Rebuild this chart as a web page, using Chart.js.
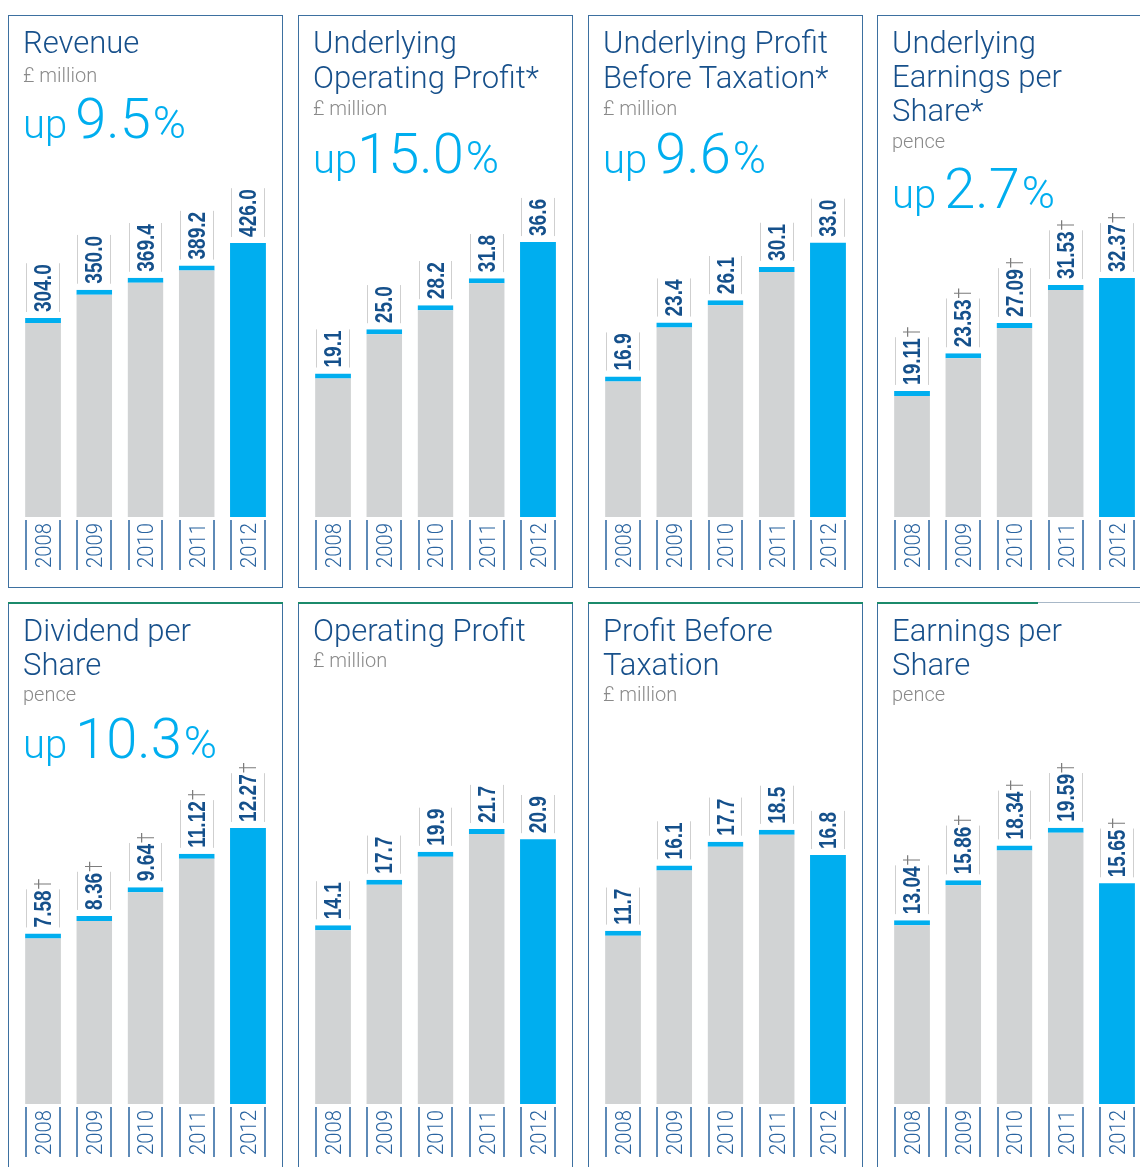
<!DOCTYPE html>
<html>
<head>
<meta charset="utf-8">
<script src="https://cdn.jsdelivr.net/npm/chart.js@4.4.0/dist/chart.umd.min.js"></script>
<style>
  html, body { margin: 0; padding: 0; background: #fff; overflow: hidden; width: 1140px; height: 1167px; }
  .panel { position: absolute; width: 275px; height: 573px; box-sizing: border-box; border: 1px solid #3d70a0; background: #fff; }
  .panel canvas { position: absolute; left: 0; top: 0; }
  .txt { position: absolute; left: 14px; white-space: nowrap; line-height: 1; font-family: Roboto, "Liberation Sans", sans-serif; font-weight: 300; }
  .title { font-size: 31px; color: #17508b; }
  .unit { font-size: 20px; color: #8a8a8a; }
  .growth { font-size: 56px; color: #00aeef; }
  .growth .small { font-size: 40px; }
  .growth .pct { font-size: 45px; margin-left: 2px; }
  .green { position: absolute; top: -1px; left: -1px; height: 2px; background: #1b8a6b; }
</style>
</head>
<body>
<script>
const years = ["2008", "2009", "2010", "2011", "2012"];

const revenue = [304.0, 350.0, 369.4, 389.2, 426.0];
const underlyingOpProfit = [19.1, 25.0, 28.2, 31.8, 36.6];
const underlyingPbt = [16.9, 23.4, 26.1, 30.1, 33.0];
const underlyingEps = [19.11, 23.53, 27.09, 31.53, 32.37];
const dividendPerShare = [7.58, 8.36, 9.64, 11.12, 12.27];
const operatingProfit = [14.1, 17.7, 19.9, 21.7, 20.9];
const profitBeforeTax = [11.7, 16.1, 17.7, 18.5, 16.8];
const earningsPerShare = [13.04, 15.86, 18.34, 19.59, 15.65];

const BLUE = "#00aeef";
const GREY = "#d1d3d4";
const ASC = 0.842; // baseline offset for line-height 1

const panels = [
  { left: 8, top: 15, title: ["Revenue"], unit: "£ million", growth: "9.5", gap: 8,
    values: revenue, decimals: 1, dagger: false, min: -19.5, max: 795,
    titleY: [38], unitY: 67, growthY: 123 },
  { left: 298, top: 15, title: ["Underlying", "Operating Profit*"], unit: "£ million", growth: "15.0", gap: 0,
    values: underlyingOpProfit, decimals: 1, dagger: false, min: 0, max: 66.7,
    titleY: [38, 73], unitY: 100, growthY: 158 },
  { left: 588, top: 15, title: ["Underlying Profit", "Before Taxation*"], unit: "£ million", growth: "9.6", gap: 8,
    values: underlyingPbt, decimals: 1, dagger: false, min: 0, max: 60.3,
    titleY: [38, 73], unitY: 100, growthY: 158 },
  { left: 877, top: 15, title: ["Underlying", "Earnings per", "Share*"], unit: "pence", growth: "2.7", gap: 8,
    values: underlyingEps, decimals: 2, dagger: true, min: 4.32, max: 63.1,
    titleY: [38, 72, 106], unitY: 133, growthY: 193 },
  { left: 8, top: 602, title: ["Dividend per", "Share"], unit: "pence", growth: "10.3", gap: 8,
    values: dividendPerShare, decimals: 2, dagger: true, min: 0, max: 22.27,
    titleY: [39, 73], unitY: 99, growthY: 156, green: 275 },
  { left: 298, top: 602, title: ["Operating Profit"], unit: "£ million", growth: null,
    values: operatingProfit, decimals: 1, dagger: false, min: 0, max: 39.54,
    titleY: [39], unitY: 65, green: 275 },
  { left: 588, top: 602, title: ["Profit Before", "Taxation"], unit: "£ million", growth: null,
    values: profitBeforeTax, decimals: 1, dagger: false, min: 0, max: 33.81,
    titleY: [39, 73], unitY: 99, green: 275 },
  { left: 877, top: 602, title: ["Earnings per", "Share"], unit: "pence", growth: null,
    values: earningsPerShare, decimals: 2, dagger: true, min: 0, max: 35.53,
    titleY: [39, 73], unitY: 99, green: 161, topColor: "#a8b8c8" }
];

// value labels above bars and year labels below them
const barLabels = {
  id: "barLabels",
  afterDatasetsDraw(chart, args, opts) {
    const ctx = chart.ctx;
    const data = chart.data.datasets[0].data;
    chart.getDatasetMeta(0).data.forEach((bar, i) => {
      const l = Math.round(bar.x - bar.width / 2) + 0.5;
      const r = Math.round(bar.x + bar.width / 2) - 0.5;

      // value
      const text = data[i].toFixed(opts.decimals);
      ctx.save();
      ctx.font = 'bold 23px "Liberation Sans", Arial, sans-serif';
      const len = ctx.measureText(text).width * 0.83;
      const y0 = bar.y - 6;
      ctx.strokeStyle = "#cfcfcf";
      ctx.lineWidth = 1;
      ctx.beginPath();
      ctx.moveTo(l + 1, y0); ctx.lineTo(l + 1, y0 - len - 1);
      ctx.moveTo(r - 1, y0); ctx.lineTo(r - 1, y0 - len - 1);
      ctx.stroke();
      ctx.translate(bar.x, y0);
      ctx.rotate(-Math.PI / 2);
      ctx.scale(0.83, 1);
      ctx.fillStyle = "#15508b";
      ctx.fillText(text, 0, 8.2);
      if (opts.dagger) {
        const w = ctx.measureText(text).width;
        ctx.font = '300 24px Roboto, "Liberation Sans", sans-serif';
        ctx.fillStyle = "#7d7d7d";
        ctx.fillText("\u2020", w + 1, 8.2);
      }
      ctx.restore();

      // year
      ctx.save();
      ctx.strokeStyle = "#2a64a0";
      ctx.lineWidth = 1.5;
      ctx.beginPath();
      ctx.moveTo(l + 0.5, bar.base + 3); ctx.lineTo(l + 0.5, bar.base + 53);
      ctx.moveTo(r - 0.5, bar.base + 3); ctx.lineTo(r - 0.5, bar.base + 53);
      ctx.stroke();
      ctx.translate(bar.x, bar.base + 51);
      ctx.rotate(-Math.PI / 2);
      ctx.scale(0.92, 1);
      ctx.font = '300 22px Roboto, "Liberation Sans", sans-serif';
      ctx.fillStyle = "#2a64a0";
      ctx.fillText(chart.data.labels[i], 0, 7.8);
      ctx.restore();
    });
  }
};

function addText(parent, html, cls, baseline, size) {
  const d = document.createElement("div");
  d.className = "txt " + cls;
  d.innerHTML = html;
  d.style.top = (baseline - 1 - ASC * size) + "px";
  parent.appendChild(d);
}

panels.forEach((p) => {
  const div = document.createElement("div");
  div.className = "panel";
  div.style.left = p.left + "px";
  div.style.top = p.top + "px";
  if (p.topColor) div.style.borderTopColor = p.topColor;
  document.body.appendChild(div);

  const canvas = document.createElement("canvas");
  canvas.width = 273;
  canvas.height = 571;
  div.appendChild(canvas);

  if (p.green) {
    const g = document.createElement("div");
    g.className = "green";
    g.style.width = p.green + "px";
    div.appendChild(g);
  }

  p.title.forEach((line, k) => addText(div, line, "title", p.titleY[k], 31));
  addText(div, p.unit, "unit", p.unitY, 20);
  if (p.growth) {
    addText(div, '<span class="small" style="margin-right:' + p.gap + 'px">up</span>' + p.growth +
      '<span class="pct">%</span>', "growth", p.growthY, 56);
  }

  const last = p.values.length - 1;
  new Chart(canvas, {
    type: "bar",
    data: {
      labels: years,
      datasets: [{
        data: p.values,
        backgroundColor: p.values.map((v, j) => (j === last ? BLUE : GREY)),
        borderColor: BLUE,
        borderWidth: (c) => (c.dataIndex === last ? 0 : { top: 5, left: 0, right: 0, bottom: 0 }),
        base: p.min,
        barPercentage: 0.7,
        categoryPercentage: 1
      }]
    },
    options: {
      responsive: false,
      animation: false,
      events: [],
      devicePixelRatio: 1,
      layout: { padding: { left: 8.4, right: 8.4, top: 0, bottom: 70 } },
      plugins: {
        legend: { display: false },
        tooltip: { enabled: false },
        barLabels: { decimals: p.decimals, dagger: p.dagger }
      },
      scales: {
        x: { display: false },
        y: { display: false, min: p.min, max: p.max }
      }
    },
    plugins: [barLabels]
  });
});
</script>
</body>
</html>
